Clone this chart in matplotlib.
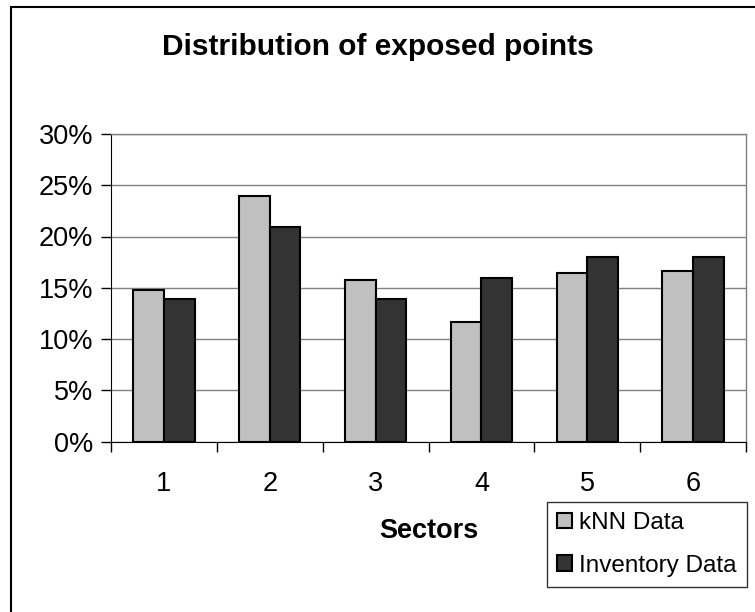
import matplotlib
matplotlib.use('Agg')
import matplotlib.pyplot as plt
from matplotlib.patches import Rectangle
from matplotlib.ticker import FixedLocator, NullFormatter

plt.rcParams['font.family'] = ['Liberation Sans', 'DejaVu Sans']

sectors = ['1', '2', '3', '4', '5', '6']
knn_data = [14.8, 24.0, 15.8, 11.7, 16.4, 16.6]
inventory_data = [13.9, 20.9, 13.9, 16.0, 18.0, 18.0]
y_ticks = [0, 5, 10, 15, 20, 25, 30]

W, H = 755, 612
fig = plt.figure(figsize=(W / 100, H / 100), dpi=100)

# axes placed in pixel terms
left, right, top, bottom = 111, 746, 134, 441.5
ax = fig.add_axes([left / W, 1 - bottom / H, (right - left) / W, (bottom - top) / H])

x = list(range(len(sectors)))
bw = 0.29
ax.bar([i - bw / 2 for i in x], knn_data, width=bw, color='#C0C0C0',
       edgecolor='black', linewidth=1.5, label='kNN Data', zorder=3)
ax.bar([i + bw / 2 for i in x], inventory_data, width=bw, color='#333333',
       edgecolor='black', linewidth=1.5, label='Inventory Data', zorder=3)

ax.set_xlim(-0.5, len(sectors) - 0.5)
ax.set_ylim(0, 30)
ax.set_yticks(y_ticks)
ax.set_yticklabels([f'{v}%' for v in y_ticks], fontsize=19.5)
ax.set_xticks(x)
ax.set_xticklabels(sectors, fontsize=19.5)
ax.tick_params(axis='x', which='major', length=0, pad=21)
ax.xaxis.set_minor_locator(FixedLocator([i - 0.5 for i in range(len(sectors) + 1)]))
ax.xaxis.set_minor_formatter(NullFormatter())
ax.tick_params(axis='x', which='minor', length=7, width=1, direction='out')
ax.tick_params(axis='y', length=7, width=1, direction='out', pad=6)

ax.grid(True, axis='y', color='#808080', linewidth=1, zorder=0)
ax.set_axisbelow(True)
for s in ['top', 'right']:
    ax.spines[s].set_color('#808080')
    ax.spines[s].set_linewidth(1)
ax.spines['left'].set_color('black')
ax.spines['bottom'].set_color('black')

ax.set_xlabel('Sectors', fontsize=19.5, fontweight='bold', labelpad=15)
fig.text(0.5, 1 - 47 / H, 'Distribution of exposed points', ha='center', va='center',
         fontsize=21.5, fontweight='bold')

leg = fig.legend(loc='upper left', bbox_to_anchor=(547 / W, 1 - 502 / H), fontsize=17.5,
                 frameon=True, fancybox=False, edgecolor='black', borderpad=0.42,
                 handlelength=0.6, handleheight=0.6, handletextpad=0.3, labelspacing=0.84,
                 borderaxespad=0)
leg.get_frame().set_linewidth(1)

# outer chart frame (cropped on right/bottom)
fig.patches.append(Rectangle((11 / W, -0.1), 1.2, 1.1 - 7 / H, transform=fig.transFigure,
                             fill=False, edgecolor='black', linewidth=1.5))

fig.savefig('out.png', dpi=100)
